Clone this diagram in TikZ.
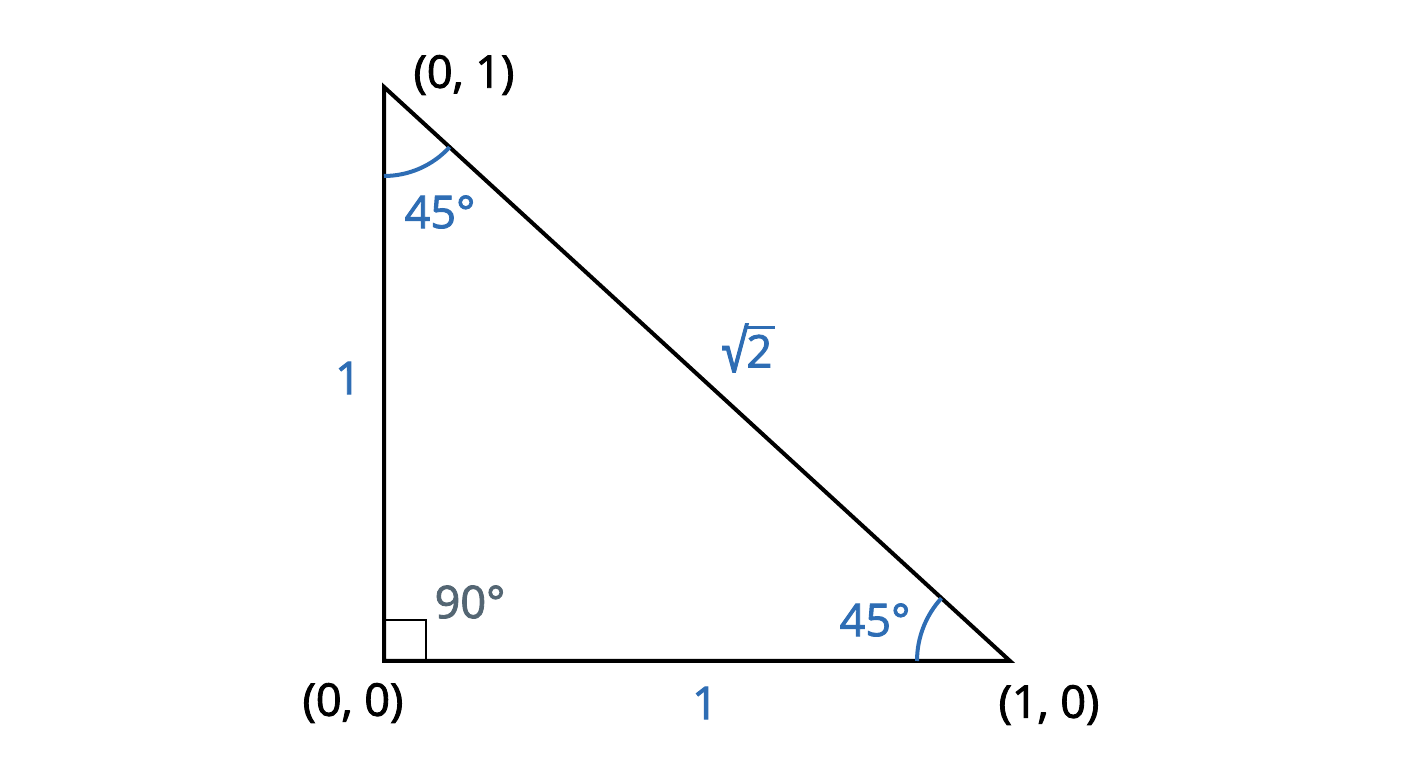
\documentclass[tikz,border=0pt]{standalone}
\usepackage{graphicx}
\usepackage{fontspec}
\setmainfont{Open Sans}[UprightFeatures={FakeBold=2}]
\definecolor{angblue}{HTML}{2E6DB4}
\definecolor{anggray}{HTML}{546673}
\newcommand{\rootsign}{\raisebox{-0.1em}{\scalebox{1}[1.3]{√}}}
\newcommand{\rootbar}{\makebox[0pt][l]{\rule[0.86em]{0.64em}{0.07em}}}
\tikzset{
  lbl/.style={font=\fontsize{45}{47}\selectfont, inner sep=0pt},
  side/.style={line width=4pt},
  angarc/.style={angblue, line width=4pt}
}
\begin{document}
\begin{tikzpicture}[x=1pt, y=1pt]
	\useasboundingbox (0,0) rectangle (1408,768);

	\coordinate (O) at (384,107);
	\coordinate (A) at (384,681);
	\coordinate (B) at (1010,107);

	% triangle and right angle mark
	\draw [side] (O) -- (A) -- (B) -- cycle;
	\draw [line width=2pt] ([yshift=41pt]O) -| ([xshift=42pt]O);

	% angle arcs
	\draw [angarc] ([yshift=-89pt]A) arc [start angle=270, end angle=317.5, radius=89];
	\draw [angarc] ([xshift=-93pt]B) arc [start angle=180, end angle=137.5, radius=93];

	\node [lbl] (lA) at (464,693) {(0, 1)};
	\node [lbl] (lO) at (353,65) {(0, 0)};
	\node [lbl] (lB) at (1049,63) {(1, 0)};

	\node [lbl, angblue] (aA) at (440,556) {45°};
	\node [lbl, angblue] (aB) at (875,148) {45°};
	\node [lbl, anggray] (aO) at (470,166) {90°};

	\node [lbl, angblue] (sL) at (348,390) {1};
	\node [lbl, angblue] (sB) at (705,65) {1};
	\node [lbl, angblue] (sH) at (747,420) {\rootsign\rootbar 2};

%	\fill (O) circle (3pt);
 \end{tikzpicture}
\end{document}
